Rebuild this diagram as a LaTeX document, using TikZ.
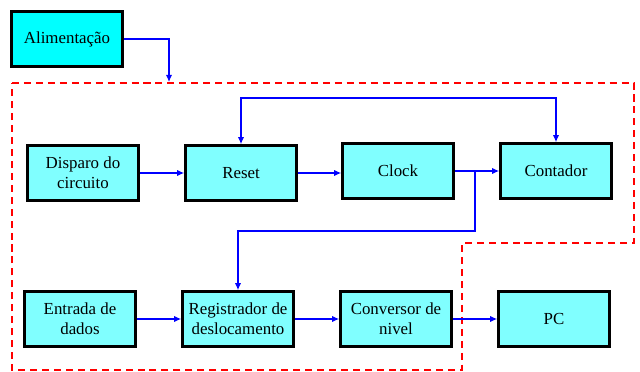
\documentclass[tikz,border=0pt]{standalone}
\usepackage{fontspec}
\setmainfont{Liberation Serif}
\newfontfamily\blocofont{Liberation Serif}
\usetikzlibrary{arrows.meta}

\definecolor{boxcyan}{HTML}{80FFFF}
\definecolor{alimcyan}{HTML}{00FFFF}

\tikzset{
    bloco/.style={draw=black, line width=1.8pt, fill=boxcyan, minimum width=2.775cm,
        minimum height=1.375cm, align=center, font=\blocofont\fontsize{12}{14}\selectfont, inner sep=1pt},
    liga/.style={draw=blue, line width=0.9pt, -{Latex[length=5pt,width=4.5pt]}},
}

\begin{document}
\begin{tikzpicture}[x=0.025cm, y=-0.025cm]
        \useasboundingbox (0, 0) rectangle (640, 372);

        % limite do circuito
        \draw[red, line width=1pt, dash pattern=on 5pt off 3.5pt]
            (12, 83) -- (634, 83) -- (634, 243) -- (462, 243) -- (462, 370) -- (12, 370) -- cycle;

        \node[bloco, fill=alimcyan] (alim) at (67, 39) {Alimentação};

        \node[bloco] (disparo) at (83, 173) {Disparo do\\circuito};
        \node[bloco] (reset) at (241, 173) {Reset};
        \node[bloco] (clock) at (398, 171) {Clock};
        \node[bloco] (contador) at (556, 171) {Contador};

        \node[bloco] (entrada) at (80, 319) {Entrada de\\dados};
        \node[bloco] (registrador) at (238, 319) {Registrador de\\deslocamento};
        \node[bloco] (conversor) at (396, 319) {Conversor de\\nivel};
        \node[bloco] (pc) at (554, 319) {PC};

        \coordinate (entra) at (169, 82);
        \coordinate (topo) at (400, 98);
        \coordinate (ramo) at (475, 171);
        \coordinate (desce) at (475, 231);

        \draw[liga] (alim.east) -| (entra);

        \draw[liga] (disparo) -- (reset);
        \draw[liga] (reset.east) -- (reset.east -| clock.west);
        \draw[liga] (clock) -- (contador);
        \draw[liga, {Latex[length=5pt,width=4.5pt]}-{Latex[length=5pt,width=4.5pt]}] (reset.north) |- (topo) -| (contador.north);

        \draw[liga] (ramo) -- (desce) -| (registrador.north);

        \draw[liga] (entrada) -- (registrador);
        \draw[liga] (registrador) -- (conversor);
        \draw[liga] (conversor) -- (pc);
    \end{tikzpicture}
\end{document}
